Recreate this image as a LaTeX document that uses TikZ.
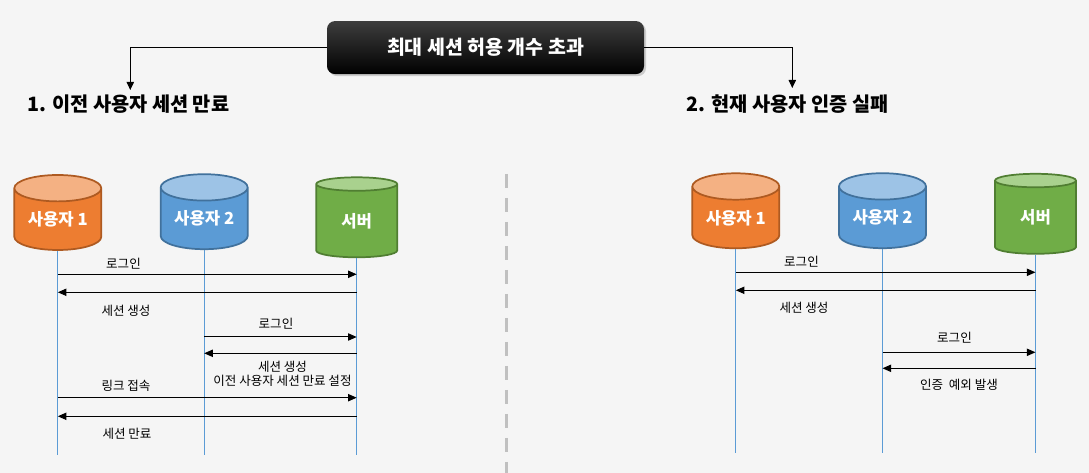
\documentclass[tikz,border=0pt]{standalone}
\usepackage{fontspec}
\setmainfont{Noto Sans CJK KR}
\usetikzlibrary{arrows.meta,shapes.geometric,shadows,positioning}
\definecolor{BgGray}{RGB}{245,245,245}
\definecolor{UserOrange}{RGB}{237,125,49}
\definecolor{UserOrangeTop}{RGB}{244,177,131}
\definecolor{UserOrangeLine}{RGB}{174,90,33}
\definecolor{UserBlue}{RGB}{91,155,213}
\definecolor{UserBlueTop}{RGB}{157,195,230}
\definecolor{UserBlueLine}{RGB}{65,113,156}
\definecolor{ServerGreen}{RGB}{112,173,71}
\definecolor{ServerGreenTop}{RGB}{169,209,142}
\definecolor{ServerGreenLine}{RGB}{80,126,50}
\definecolor{LifeBlue}{RGB}{91,155,213}
\definecolor{SplitGray}{RGB}{192,192,192}

\tikzset{
  db/.style={cylinder,shape border rotate=90,aspect=0.44,draw,line width=1.3pt,
    inner sep=0pt,anchor=shape center,cylinder uses custom fill,text=white,
    font=\bfseries\fontsize{12.5}{14}\selectfont},
  dbuser/.style={db,minimum width=65.25pt,minimum height=56.25pt},
  dbserver/.style={db,minimum width=60.75pt,minimum height=60pt},
  orangedb/.style={draw=UserOrangeLine,cylinder body fill=UserOrange,cylinder end fill=UserOrangeTop},
  bluedb/.style={draw=UserBlueLine,cylinder body fill=UserBlue,cylinder end fill=UserBlueTop},
  greendb/.style={draw=ServerGreenLine,cylinder body fill=ServerGreen,cylinder end fill=ServerGreenTop},
  lifeline/.style={LifeBlue,line width=0.75pt},
  msg/.style={-{Triangle[length=6.5pt,width=5.5pt]},line width=0.75pt},
  msglabel/.style={font=\fontsize{9.4}{10.5}\selectfont,align=center,inner sep=1pt},
  heading/.style={font=\bfseries\fontsize{14.8}{17}\selectfont,anchor=west,inner sep=0pt},
  flow/.style={-{Triangle[length=6pt,width=5.5pt]},line width=0.75pt},
}

\begin{document}
\begin{tikzpicture}[x=0.75pt,y=-0.75pt]
  \useasboundingbox (0,0) rectangle (1089,473);
  \fill[BgGray] (0,0) rectangle (1089,473);

  % top box and the two cases
  \node[rounded corners=6pt,top color=black!76,middle color=black,bottom color=black,
    minimum width=237.75pt,minimum height=39.75pt,text=white,
    font=\bfseries\fontsize{14.6}{17}\selectfont,
    drop shadow={shadow xshift=1.5pt,shadow yshift=-1.5pt,opacity=0.35}]
    (limit) at (485.5,47.6) {최대 세션 허용 개수 초과};
  \node[heading] (h1) at (27,104) {1. 이전 사용자 세션 만료};
  \node[heading] (h2) at (686.5,104) {2. 현재 사용자 인증 실패};
  \coordinate (h1 tip) at (130.3,90);
  \coordinate (h2 tip) at (792.3,88);
  \draw[flow] (limit.west) -| (h1 tip);
  \draw[flow] (limit.east) -| (h2 tip);

  \draw[SplitGray,line width=2.25pt,dash pattern=on 10.5pt off 7.5pt] (506.5,174) -- (506.5,473);

  % case 1
  \node[dbuser,orangedb] (u1a) at (57.8,212.5) {사용자 1};
  \node[dbuser,bluedb] (u2a) at (204.2,211.7) {사용자 2};
  \node[dbserver,greendb] (sva) at (356.7,217.3) {서버};
  \draw[lifeline] (u1a.bottom) -- (u1a.bottom |- 0,455);
  \draw[lifeline] (u2a.bottom) -- (u2a.bottom |- 0,455);
  \draw[lifeline] (sva.bottom) -- (sva.bottom |- 0,455);

  \draw[msg] (u1a |- 0,274.3) -- (sva |- 0,274.3);
  \node[msglabel] (a1) at (123.5,264) {로그인};
  \draw[msg] (sva |- 0,292.3) -- (u1a |- 0,292.3);
  \node[msglabel] (a2) at (126,310.5) {세션 생성};
  \draw[msg] (u2a |- 0,337) -- (sva |- 0,337);
  \node[msglabel] (a3) at (276,324) {로그인};
  \draw[msg] (sva |- 0,353.3) -- (u2a |- 0,353.3);
  \node[msglabel] (a4) at (282.5,374.2) {세션 생성\\이전 사용자 세션 만료 설정};
  \draw[msg] (u1a |- 0,397.7) -- (sva |- 0,397.7);
  \node[msglabel] (a5) at (126,386) {링크 접속};
  \draw[msg] (sva |- 0,416.3) -- (u1a |- 0,416.3);
  \node[msglabel] (a6) at (127,433.5) {세션 만료};

  % case 2
  \node[dbuser,orangedb] (u1b) at (735.8,210.8) {사용자 1};
  \node[dbuser,bluedb] (u2b) at (882.5,210.7) {사용자 2};
  \node[dbserver,greendb] (svb) at (1035.5,213.8) {서버};
  \draw[lifeline] (u1b.bottom) -- (u1b.bottom |- 0,453);
  \draw[lifeline] (u2b.bottom) -- (u2b.bottom |- 0,453);
  \draw[lifeline] (svb.bottom) -- (svb.bottom |- 0,453);

  \draw[msg] (u1b |- 0,272.3) -- (svb |- 0,272.3);
  \node[msglabel] (b1) at (801.5,262) {로그인};
  \draw[msg] (svb |- 0,290.3) -- (u1b |- 0,290.3);
  \node[msglabel] (b2) at (804,308) {세션 생성};
  \draw[msg] (u2b |- 0,352.3) -- (svb |- 0,352.3);
  \node[msglabel] (b3) at (954.5,338) {로그인};
  \draw[msg] (svb |- 0,368.3) -- (u2b |- 0,368.3);
  \node[msglabel] (b4) at (959,384.5) {인증\ \ 예외 발생};
\end{tikzpicture}
\end{document}
